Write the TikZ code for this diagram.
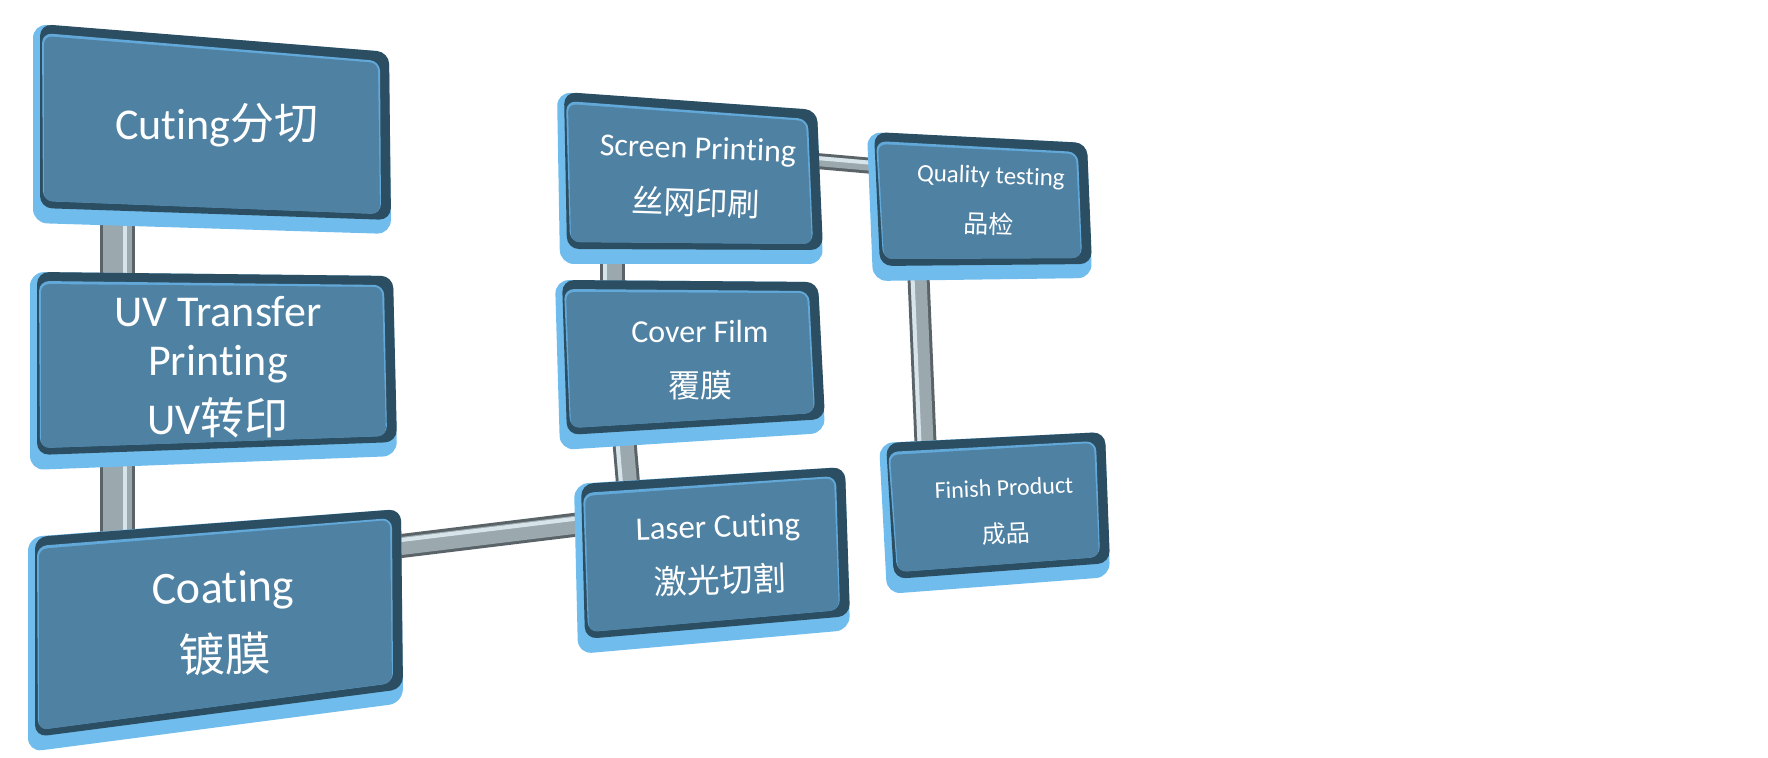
\documentclass[tikz,border=0pt]{standalone}
\usepackage{fontspec}
\setmainfont{Carlito}[Ligatures=NoCommon]
\newfontfamily\cjk{Noto Sans CJK SC}
\usetikzlibrary{calc}
\definecolor{rimc}{HTML}{70BCEC}
\definecolor{darkc}{HTML}{2C4E62}
\definecolor{hic}{HTML}{62A9DA}
\definecolor{facec}{HTML}{4F81A3}
\definecolor{bardark}{HTML}{5A6468}
\definecolor{barmid}{HTML}{9BA8AE}
\definecolor{barhi}{HTML}{D7E4EA}
\newcommand\procpanel[4]{%
  \fill[rimc, rounded corners=7pt] #1 -- #2 -- #3 -- #4 -- cycle;
  \fill[darkc, rounded corners=6pt] ($#1+(7,0)$) -- #2 -- ($#3+(0,-14)$) -- ($#4+(7,-15)$) -- cycle;
  \fill[hic, rounded corners=5pt] ($#1+(9,9)$) -- ($#2+(-9,9)$) -- ($#3+(-10,-20)$) -- ($#4+(10,-22)$) -- cycle;
  \fill[facec, rounded corners=4pt] ($#1+(11,12)$) -- ($#2+(-11,11)$) -- ($#3+(-11,-20)$) -- ($#4+(11,-22)$) -- cycle;
}
\newcommand\gbar[4]{%
  \draw[line width=#3, bardark] (#1) -- (#2);
  \draw[line width=#3-3pt, barmid] (#1) -- (#2);
  \draw[line width=2pt, barhi] ($(#1)+#4$) -- ($(#2)+#4$);
}
\tikzset{lbl/.style={text=white, align=center, inner sep=0pt}}
\begin{document}
\begin{tikzpicture}[x=0.5pt, y=-0.5pt]
\useasboundingbox (0,0) rectangle (1768,758);
\fill[white] (0,0) rectangle (1768,758);
% connector ends
\coordinate (b1a) at (117,215); \coordinate (b1b) at (117,290);
\coordinate (b2a) at (117,450); \coordinate (b2b) at (117,555);
\coordinate (b3a) at (385,548); \coordinate (b3b) at (590,523);
\coordinate (b4a) at (612,250); \coordinate (b4b) at (612,292);
\coordinate (b5a) at (623,425); \coordinate (b5b) at (629,495);
\coordinate (b6a) at (805,160); \coordinate (b6b) at (885,167);
\coordinate (b7a) at (918,265); \coordinate (b7b) at (926,455);
% connectors
\gbar{b1a}{b1b}{17.5pt}{(8,0)}
\gbar{b2a}{b2b}{17.5pt}{(8,0)}
\gbar{b3a}{b3b}{12pt}{(0,-6)}
\gbar{b4a}{b4b}{12.5pt}{(-7,0)}
\gbar{b5a}{b5b}{12pt}{(-7,0)}
\gbar{b6a}{b6b}{8pt}{(0,-3)}
\gbar{b7a}{b7b}{11pt}{(-6,0)}
% panels
\procpanel{(33,24)}{(389,52)}{(391,234)}{(33,223)}
\procpanel{(30,272)}{(393,276)}{(397,456)}{(30,470)}
\procpanel{(28,537)}{(401,509)}{(403,703)}{(28,752)}
\procpanel{(557,92)}{(817,110)}{(823,264)}{(560,264)}
\procpanel{(555,280)}{(818,282)}{(825,433)}{(560,450)}
\procpanel{(574,484)}{(845,467)}{(850,630)}{(578,654)}
\procpanel{(867,132)}{(1087,143)}{(1092,278)}{(873,281)}
\procpanel{(879,443)}{(1105,432)}{(1110,577)}{(887,594)}
% labels
\node[lbl, font=\fontsize{22pt}{26pt}\selectfont] (cut) at (217,125) {Cuting{\cjk 分切}};
\node[lbl, font=\fontsize{22pt}{24.5pt}\selectfont] (uv) at (218,367) {UV Transfer\\Printing\\[5pt]UV{\cjk 转印}};
\node[lbl, rotate=1.5, font=\fontsize{23pt}{34.5pt}\selectfont] (coat) at (224,623) {Coating\\{\cjk 镀膜}};
\node[lbl, rotate=-2, font=\fontsize{16pt}{28pt}\selectfont] (sp) at (697,177) {Screen Printing\\{\cjk 丝网印刷}};
\node[lbl, font=\fontsize{16pt}{27.5pt}\selectfont] (cov) at (700,360) {Cover Film\\{\cjk 覆膜}};
\node[lbl, rotate=2, font=\fontsize{16.5pt}{27.5pt}\selectfont] (las) at (719,555) {Laser Cuting\\{\cjk 激光切割}};
\node[lbl, rotate=-2, font=\fontsize{12.5pt}{25pt}\selectfont] (qt) at (990,201) {Quality testing\\{\cjk 品检}};
\node[lbl, rotate=2.5, font=\fontsize{12pt}{23.5pt}\selectfont] (fin) at (1005,512) {Finish Product\\{\cjk 成品}};
% connections between the labelled steps
\path (cut) -- (uv) -- (coat) -- (las) -- (cov) -- (sp) -- (qt) -- (fin);
\end{tikzpicture}
\end{document}
